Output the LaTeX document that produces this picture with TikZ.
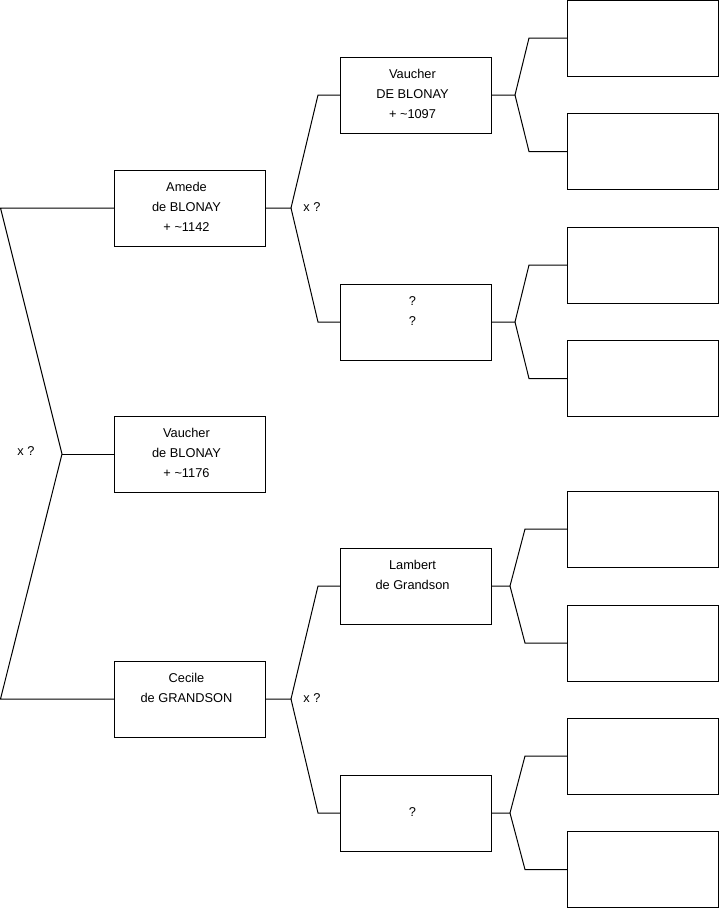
\documentclass[tikz,border=0pt]{standalone}
\usepackage{fontspec}
\setmainfont{Liberation Sans}
\begin{document}
\begin{tikzpicture}[x=1pt,y=-1pt,
  box/.style={draw, line width=1pt, minimum width=151pt, minimum height=76pt, inner sep=0pt, outer sep=0pt},
  txt/.style={anchor=base, inner sep=0pt, font=\fontsize{12.8}{20}\selectfont},
  conn/.style={draw, line width=1pt, line join=miter}]
\useasboundingbox (0,0) rectangle (719,908);
% generation 1
\node[box] (amede) at (189.5,208) {};
\node[box] (vaucherA) at (189.5,454) {};
\node[box] (cecile) at (189.5,699) {};
% generation 2
\node[box] (vaucherB) at (415.5,95) {};
\node[box] (qq) at (415.5,322) {};
\node[box] (lambert) at (415.5,586) {};
\node[box] (q) at (415.5,813) {};
% generation 3
\node[box] (r1) at (642.5,38) {};
\node[box] (r2) at (642.5,151.5) {};
\node[box] (r3) at (642.5,265) {};
\node[box] (r4) at (642.5,378.5) {};
\node[box] (r5) at (642.5,529) {};
\node[box] (r6) at (642.5,643) {};
\node[box] (r7) at (642.5,756) {};
\node[box] (r8) at (642.5,869.5) {};
% texts
\node[txt] (t1a) at ([xshift=-3pt,yshift=-21pt]amede.north) {Amede};
\node[txt] (t1b) at ([xshift=-3pt,yshift=-41pt]amede.north) {de BLONAY};
\node[txt] (t1c) at ([xshift=-3pt,yshift=-61pt]amede.north) {+ \textasciitilde1142};
\node[txt] (t2a) at ([xshift=-3pt,yshift=-21pt]vaucherA.north) {Vaucher};
\node[txt] (t2b) at ([xshift=-3pt,yshift=-41pt]vaucherA.north) {de BLONAY};
\node[txt] (t2c) at ([xshift=-3pt,yshift=-61pt]vaucherA.north) {+ \textasciitilde1176};
\node[txt] (t3a) at ([xshift=-3pt,yshift=-21pt]cecile.north) {Cecile};
\node[txt] (t3b) at ([xshift=-3pt,yshift=-41pt]cecile.north) {de GRANDSON};
\node[txt] (t4a) at ([xshift=-3pt,yshift=-21pt]vaucherB.north) {Vaucher};
\node[txt] (t4b) at ([xshift=-3pt,yshift=-41pt]vaucherB.north) {DE BLONAY};
\node[txt] (t4c) at ([xshift=-3pt,yshift=-61pt]vaucherB.north) {+ \textasciitilde1097};
\node[txt] (t5a) at ([xshift=-3pt,yshift=-21pt]qq.north) {?};
\node[txt] (t5b) at ([xshift=-3pt,yshift=-41pt]qq.north) {?};
\node[txt] (t6a) at ([xshift=-3pt,yshift=-21pt]lambert.north) {Lambert};
\node[txt] (t6b) at ([xshift=-3pt,yshift=-41pt]lambert.north) {de Grandson};
\node[txt] (t7a) at ([xshift=-3pt,yshift=-41pt]q.north) {?};
% marriage labels
\node[txt] (x0) at (26,455.5) {x ?};
\node[txt] (x1) at (312,211) {x ?};
\node[txt] (x2) at (312,702) {x ?};
% junction coordinates
\coordinate (L1) at (0.5,208);
\coordinate (L2) at (0.5,699);
\coordinate (J0) at (62,454);
\coordinate (JA) at (291,208);
\coordinate (UA) at (318,95);
\coordinate (DA) at (318,322);
\coordinate (JC) at (291,699);
\coordinate (UC) at (318,586);
\coordinate (DC) at (318,813);
\coordinate (JV) at (515,95);
\coordinate (UV) at (529,38);
\coordinate (DV) at (529,151.5);
\coordinate (JQ) at (515,322);
\coordinate (UQ) at (529,265);
\coordinate (DQ) at (529,378.5);
\coordinate (JL) at (510,586);
\coordinate (UL) at (525,529);
\coordinate (DL) at (525,643);
\coordinate (JR) at (510,813);
\coordinate (UR) at (525,756);
\coordinate (DR) at (525,869.5);
% connectors
\path[conn] (amede.west) -- (L1) -- (J0) -- (L2) -- (cecile.west);
\path[conn] (J0) -- (vaucherA.west);
\path[conn] (amede.east) -- (JA) -- (UA) -- (vaucherB.west);
\path[conn] (JA) -- (DA) -- (qq.west);
\path[conn] (cecile.east) -- (JC) -- (UC) -- (lambert.west);
\path[conn] (JC) -- (DC) -- (q.west);
\path[conn] (vaucherB.east) -- (JV) -- (UV) -- (r1.west);
\path[conn] (JV) -- (DV) -- (r2.west);
\path[conn] (qq.east) -- (JQ) -- (UQ) -- (r3.west);
\path[conn] (JQ) -- (DQ) -- (r4.west);
\path[conn] (lambert.east) -- (JL) -- (UL) -- (r5.west);
\path[conn] (JL) -- (DL) -- (r6.west);
\path[conn] (q.east) -- (JR) -- (UR) -- (r7.west);
\path[conn] (JR) -- (DR) -- (r8.west);
\end{tikzpicture}
\end{document}
